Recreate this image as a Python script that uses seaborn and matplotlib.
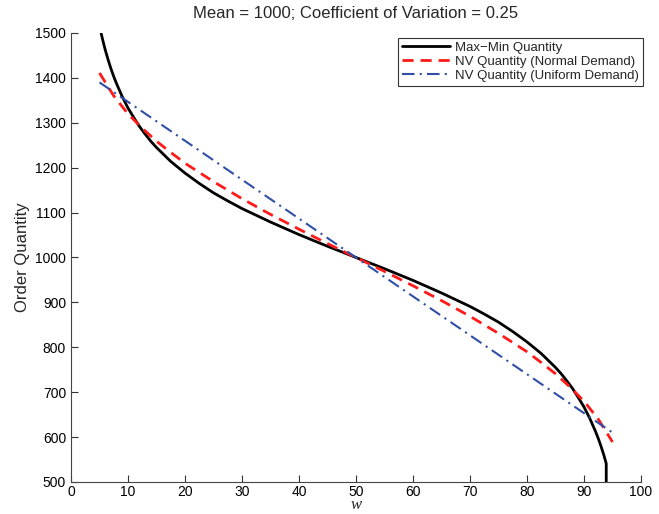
import numpy as np
import pandas as pd
import matplotlib
matplotlib.use("Agg")
import matplotlib.pyplot as plt
import seaborn as sns

# Max-Min quantity (black solid)
w_maxmin = [5.3, 5.6, 6, 6.5, 7, 7.5, 8, 9, 10, 11, 12, 13, 14, 15, 17.5, 20, 22.5, 25, 27.5,
            30, 35, 40, 45, 50, 55, 60, 65, 70, 72.5, 75, 77.5, 80, 82.5, 85, 86, 87, 88, 89,
            90, 91, 92, 92.5, 93, 93.5, 93.9, 93.9]
q_maxmin = [1499, 1483, 1463, 1441, 1421, 1403, 1387, 1358, 1333, 1312, 1292, 1275, 1259, 1245,
            1214, 1188, 1165, 1144, 1126, 1109, 1079, 1051, 1025, 1000, 975, 949, 921, 891, 874,
            856, 835, 812, 786, 755, 741, 725, 708, 688, 667, 642, 613, 597, 579, 559, 541, 500]

# Newsvendor quantity, normal demand (red dashed)
w_normal = [5, 7.5, 10, 12.5, 15, 17.5, 20, 25, 30, 35, 40, 45, 50, 55, 60, 65, 70, 75, 80,
            82.5, 85, 87.5, 90, 92.5, 95]
q_normal = [1411, 1360, 1320, 1288, 1259, 1234, 1210, 1169, 1131, 1096, 1063, 1031, 1000,
            969, 937, 904, 869, 831, 790, 766, 741, 712, 680, 640, 589]

# Newsvendor quantity, uniform demand (blue dash-dot)
w_uniform = [5, 50, 95]
q_uniform = [1390, 1000, 610]

sns.set_style("ticks")
plt.rcParams["font.family"] = ["Liberation Sans", "DejaVu Sans"]

fig = plt.figure(figsize=(6.59, 5.14), dpi=100)
ax = fig.add_axes([0.1077, 0.0623, 0.865, 0.8735])

sns.lineplot(x=w_maxmin, y=q_maxmin, sort=False, estimator=None, ax=ax, color="black", lw=2,
             label="Max\u2212Min Quantity")
sns.lineplot(x=w_normal, y=q_normal, sort=False, estimator=None, ax=ax, color="#ff1a1a", lw=2,
             linestyle=(0, (4, 2.5)), label="NV Quantity (Normal Demand)")
sns.lineplot(x=w_uniform, y=q_uniform, sort=False, estimator=None, ax=ax, color="#2f4fa8",
             lw=1.5, linestyle=(0, (6, 2.5, 1, 2.5)), label="NV Quantity (Uniform Demand)")

ax.set_xlim(0, 100)
ax.set_ylim(500, 1500)
ax.set_xticks(range(0, 101, 10))
ax.set_yticks(range(500, 1501, 100))
ax.tick_params(direction="in", length=5, labelsize=10, colors="#333333", labelcolor="black")
ax.tick_params(axis="x", pad=2)
for side in ["top", "right"]:
    ax.spines[side].set_visible(False)
for side in ["left", "bottom"]:
    ax.spines[side].set_color("#444444")

ax.set_title("Mean = 1000; Coefficient of Variation = 0.25", fontsize=12, pad=11)
ax.set_ylabel("Order Quantity", fontsize=12)
ax.set_xlabel("w", fontsize=12, fontstyle="italic", family="Liberation Serif", labelpad=-1)

leg = ax.legend(loc="upper right", bbox_to_anchor=(1.008, 0.995), fontsize=9.5,
                frameon=True, fancybox=False, handlelength=3.6, borderpad=0.3,
                labelspacing=0.12, handletextpad=0.4, borderaxespad=0.2)
leg.get_frame().set_edgecolor("black")
leg.get_frame().set_linewidth(0.8)

fig.savefig("out.png", dpi=100)
